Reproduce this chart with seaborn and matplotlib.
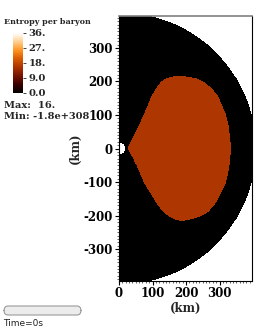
import numpy as np
import matplotlib
matplotlib.use("Agg")
import matplotlib.pyplot as plt
import seaborn as sns
from matplotlib.path import Path
from matplotlib.patches import FancyBboxPatch

sns.set_theme(style="ticks")
plt.rcParams["font.family"] = ["DejaVu Serif"]

# values (km)
outer_radius = 406.0
hole_radius = 18.0
shell_value = 0.0
core_value = 15.9
# boundary of the hot core, read along its edge (counter-clockwise from the left tip)
core_x = [25, 40, 58, 72, 85, 95, 110, 125, 140, 160, 179, 200, 230, 250, 275,
          295, 305, 318, 325, 330, 333,
          330, 327, 318, 305, 290, 265, 240, 205, 187, 170, 150, 130, 108, 90,
          72, 55, 42]
core_y = [0, 31, 70, 100, 130, 155, 180, 200, 210, 215, 217, 215, 210, 200, 180,
          155, 130, 100, 70, 31, 0,
          -30, -60, -100, -129, -159, -189, -204, -214, -216, -214, -204, -189,
          -159, -129, -100, -60, -30]
cbar_ticks = [0, 9, 18, 27, 36]
cbar_labels = ["0.0", "9.0", "18.", "27.", "36."]
x_ticks = [0, 100, 200, 300]
y_ticks = [-300, -200, -100, 0, 100, 200, 300]

xs = np.arange(0, 398, 1.0)
ys = np.arange(-397, 398, 1.0)
X, Y = np.meshgrid(xs, ys)
R = np.hypot(X, Y)
field = np.full(X.shape, shell_value)
core = Path(np.column_stack([core_x, core_y]))
inside = core.contains_points(np.column_stack([X.ravel(), Y.ravel()])).reshape(X.shape)
field[inside] = core_value
field[(R > outer_radius) | (R < hole_radius)] = np.nan

cmap = sns.blend_palette(["#000000", "#3a0000", "#761400", "#aa3200",
                          "#d85a00", "#ff9420", "#ffcf90", "#ffffff"], as_cmap=True)
cmap.set_bad("white")

fig = plt.figure(figsize=(2.66, 3.32), dpi=100)
ax = fig.add_axes([119 / 266, 1 - 281 / 332, 133 / 266, 265 / 332])
im = ax.imshow(field, origin="lower", extent=[0, 397, -397, 397], cmap=cmap,
               vmin=0, vmax=36, interpolation="nearest", aspect="equal")
ax.set_xlim(0, 397)
ax.set_ylim(-395, 395)

tfont = dict(fontsize=8.5, fontweight="bold", family="DejaVu Serif")
ax.set_xticks(x_ticks)
ax.set_xticklabels([str(t) for t in x_ticks], **tfont)
ax.set_yticks(y_ticks)
ax.set_yticklabels([str(t) for t in y_ticks], **tfont)
ax.set_xticks(np.arange(0, 397, 10), minor=True)
ax.set_yticks(np.arange(-390, 395, 10), minor=True)
ax.tick_params(which="major", length=3, width=0.8, pad=1.5, colors="black")
ax.tick_params(which="minor", length=1.6, width=0.5)
ax.set_xlabel("(km)", fontsize=8.5, fontweight="bold", labelpad=1)
ax.set_ylabel("(km)", fontsize=8.5, fontweight="bold", labelpad=1)
for side in ["left", "bottom", "right"]:
    ax.spines[side].set_color("black")
    ax.spines[side].set_linewidth(0.8)
ax.spines["top"].set_color("#808080")
ax.spines["top"].set_linewidth(1.2)

cax = fig.add_axes([13 / 266, 1 - 93 / 332, 10 / 266, 60 / 332])
cb = fig.colorbar(im, cax=cax, ticks=cbar_ticks)
cb.outline.set_visible(False)
cb.ax.set_yticklabels(cbar_labels, fontsize=7.2, fontweight="bold")
cb.ax.tick_params(length=2.5, width=0.6, pad=1.5)

fig.text(4 / 266, 1 - 22 / 332, "Entropy per baryon", fontsize=5.8,
         fontweight="bold", va="center", ha="left")
fig.text(4 / 266, 1 - 106 / 332, "Max:  16.", fontsize=7.1,
         fontweight="bold", va="center", ha="left")
fig.text(4 / 266, 1 - 117 / 332, "Min: -1.8e+308", fontsize=7.1,
         fontweight="bold", va="center", ha="left")

slider = FancyBboxPatch((4 / 266, 1 - 315 / 332), 77 / 266, 9 / 332,
                        boxstyle="round,pad=0,rounding_size=0.015",
                        transform=fig.transFigure, facecolor="#ececec",
                        edgecolor="#9a9a9a", linewidth=0.8)
fig.patches.append(slider)
fig.text(3 / 266, 1 - 324 / 332, "Time=0s", fontsize=6.5, family="DejaVu Sans",
         va="center", ha="left", color="#222222")

fig.savefig("out.png", dpi=100)
